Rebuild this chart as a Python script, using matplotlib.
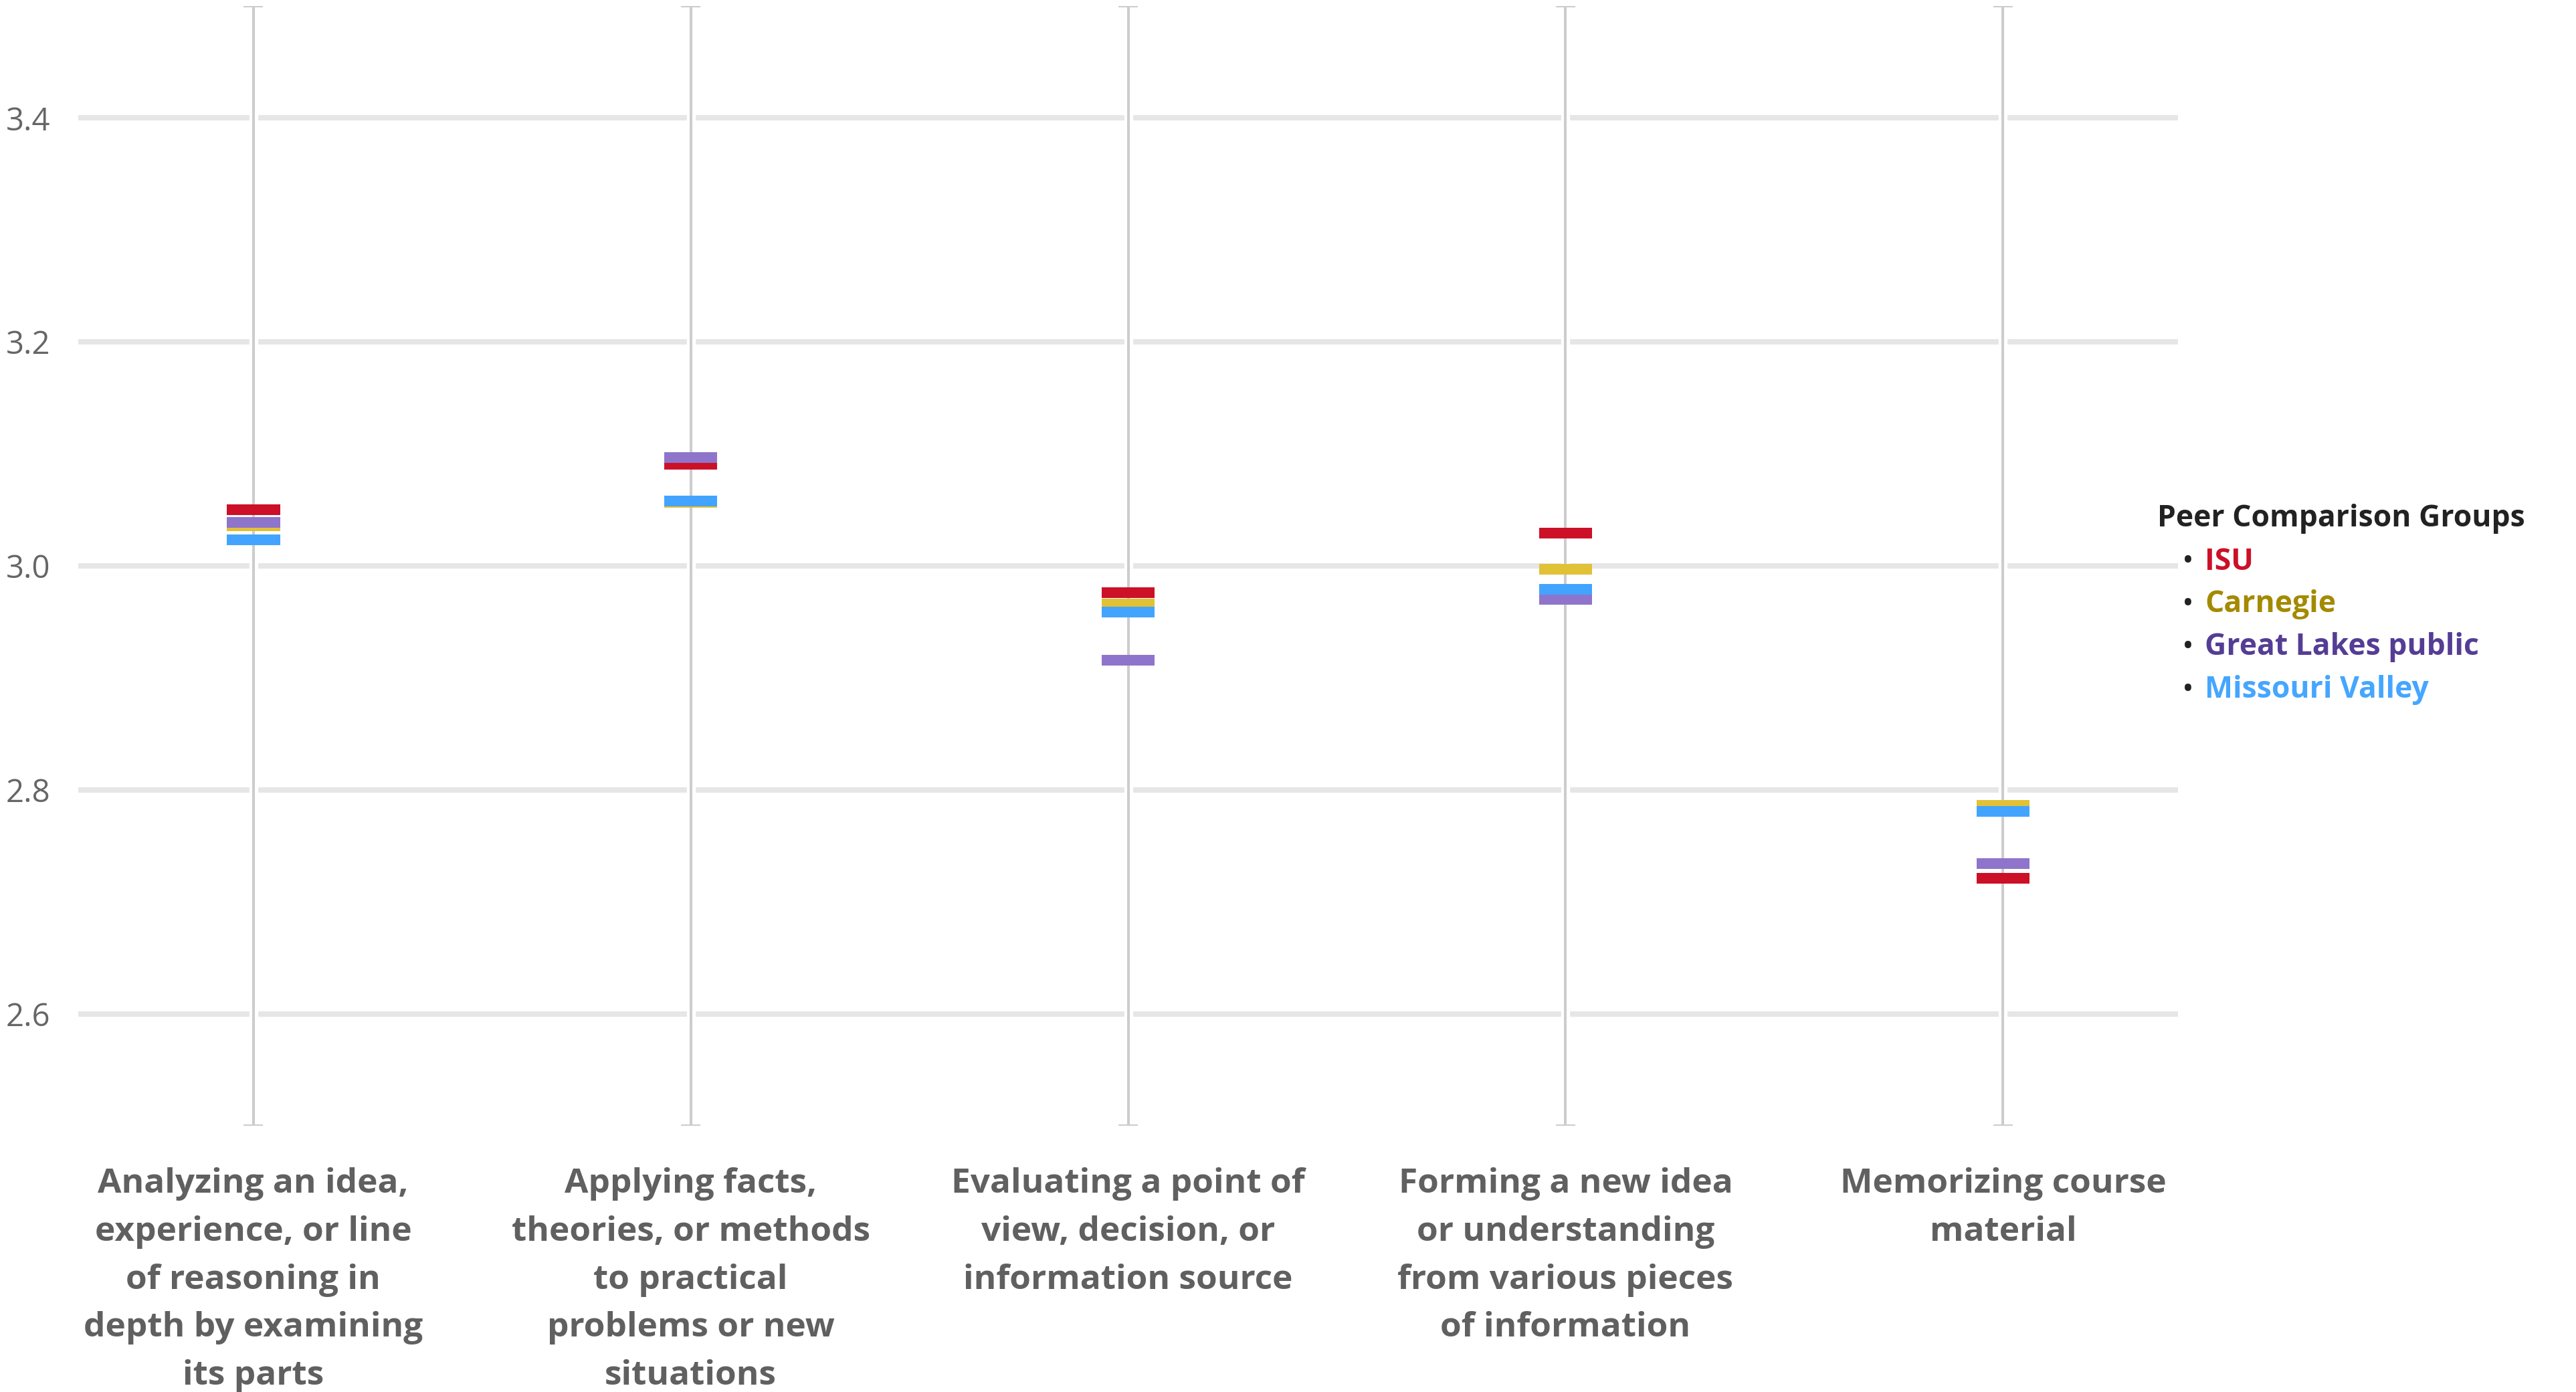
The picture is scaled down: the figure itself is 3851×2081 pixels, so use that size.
import numpy as np
import matplotlib
matplotlib.use("Agg")
import matplotlib.pyplot as plt
import matplotlib.patheffects as pe

plt.rcParams['font.family'] = ['Open Sans', 'DejaVu Sans']

categories = [
    "Analyzing an idea,\nexperience, or line\nof reasoning in\ndepth by examining\nits parts",
    "Applying facts,\ntheories, or methods\nto practical\nproblems or new\nsituations",
    "Evaluating a point of\nview, decision, or\ninformation source",
    "Forming a new idea\nor understanding\nfrom various pieces\nof information",
    "Memorizing course\nmaterial",
]
groups = ["ISU", "Carnegie", "Great Lakes public", "Missouri Valley"]
isu = [3.050, 3.091, 2.976, 3.029, 2.721]
carnegie = [3.036, 3.057, 2.966, 2.997, 2.786]
great_lakes = [3.039, 3.097, 2.916, 2.970, 2.734]
missouri_valley = [3.023, 3.058, 2.959, 2.979, 2.781]
yticks = [2.6, 2.8, 3.0, 3.2, 3.4]
y_range = (2.5, 3.5)

series = [isu, carnegie, great_lakes, missouri_valley]
mark_colors = ['#CC1027', '#E1C136', '#8F74CB', '#42A4FF']
text_colors = ['#CC1027', '#A38A00', '#553D95', '#45A6FF']

fig = plt.figure(figsize=(38.51, 20.81), dpi=100)
ax = fig.add_axes([0.0304, 0.1913, 0.8151, 0.8044])

x = np.arange(len(categories))

for yv in yticks:
    ax.axhline(yv, color='#e6e6e6', lw=5.8, zorder=1)

# whiskers spanning the full range, with white halo so the grid breaks around them
vl = ax.vlines(x, y_range[0], y_range[1], color='#cccccc', lw=2.9, zorder=2,
               path_effects=[pe.Stroke(linewidth=9.5, foreground='white'), pe.Normal()])
for y_end in y_range:
    ax.hlines([y_end] * len(x), x - 0.022, x + 0.022, color='#cccccc', lw=2.9, zorder=2)

half = 0.061
for i, (vals, c) in enumerate(zip(series, mark_colors)):
    ax.hlines(vals, x - half, x + half, color=c, lw=11.5, zorder=3 + i, capstyle='butt')

ax.set_xlim(-0.4, 4.4)
ax.set_ylim(*y_range)
ax.set_yticks(yticks)
ax.set_yticklabels([f"{v:.1f}" for v in yticks], fontsize=34, color='#666666')
ax.set_xticks(x)
ax.set_xticklabels(categories, fontsize=37, fontweight='bold', color='#606060',
                   linespacing=1.57, va='top')
ax.tick_params(axis='both', length=0)
ax.tick_params(axis='y', pad=30)
ax.tick_params(axis='x', pad=45)
for s in ax.spines.values():
    s.set_visible(False)

# legend drawn as text lines
fig.text(3225 / 3851, 1 - 776 / 2081, "Peer Comparison Groups", fontsize=32,
         fontweight='bold', color='#222222', va='center', ha='left')
for k, (name, tc) in enumerate(zip(groups, text_colors)):
    yy = 1 - (840 + 64 * k) / 2081
    fig.text(3262 / 3851, yy, "\u2022", fontsize=34, color='#222222', va='center', ha='left')
    fig.text(3296 / 3851, yy, name, fontsize=32, fontweight='bold', color=tc,
             va='center', ha='left')

fig.savefig("out.png", dpi=100, facecolor='white')
